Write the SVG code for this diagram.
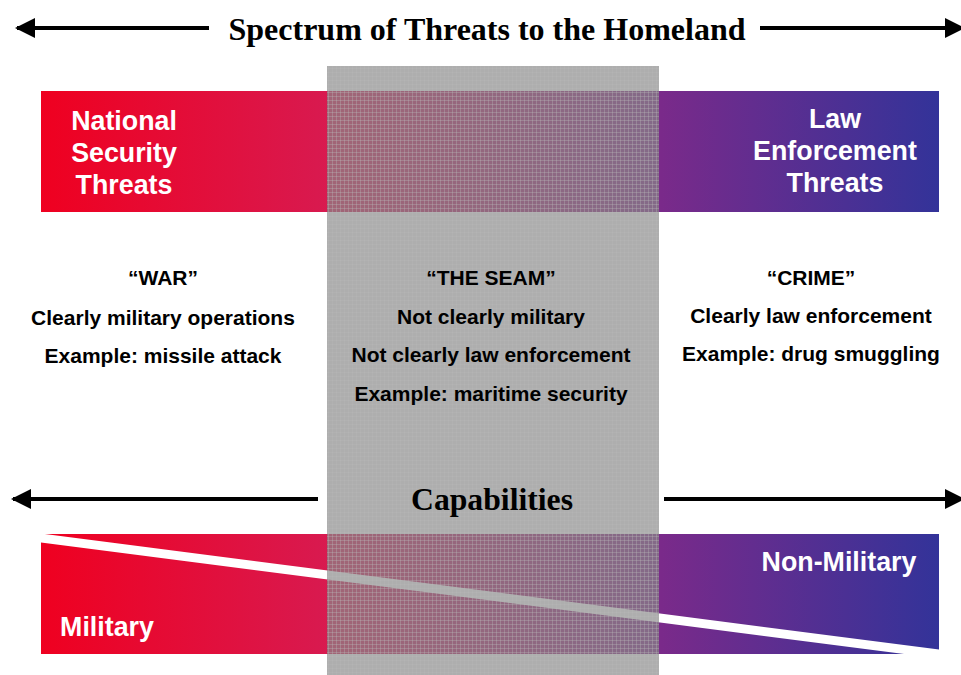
<svg xmlns="http://www.w3.org/2000/svg" width="961" height="675" viewBox="0 0 961 675">
<defs>
<style>
.title{font-family:"Liberation Serif","Times New Roman",serif;font-weight:bold;font-size:32px;fill:#000;text-anchor:middle}
.band{font-family:"Liberation Sans",Arial,sans-serif;font-weight:bold;font-size:26.8px;fill:#fff;text-anchor:middle}
.body{font-family:"Liberation Sans",Arial,sans-serif;font-weight:bold;font-size:21px;fill:#000;text-anchor:middle}
.arrow{stroke:#000;stroke-width:4;fill:none}
</style>
<linearGradient id="spec" gradientUnits="userSpaceOnUse" x1="41" y1="0" x2="939" y2="0">
<stop offset="0" stop-color="#ef0020"/>
<stop offset="0.32" stop-color="#d81a50"/>
<stop offset="0.69" stop-color="#7a2a8a"/>
<stop offset="1" stop-color="#333399"/>
</linearGradient>
<pattern id="mesh" patternUnits="userSpaceOnUse" width="4" height="4">
<rect width="4" height="4" fill="#878787" fill-opacity="0.68"/>
<rect x="0" y="0" width="4" height="1" fill="#b8b8b8" fill-opacity="0.35"/>
<rect x="0" y="0" width="1" height="4" fill="#b8b8b8" fill-opacity="0.35"/>
</pattern>
<marker id="ah" viewBox="0 0 10 10" refX="9" refY="5" markerWidth="5" markerHeight="5" orient="auto-start-reverse" markerUnits="strokeWidth">
<path d="M0,0 L10,5 L0,10 Z" fill="#000"/>
</marker>
</defs>
<rect width="961" height="675" fill="#fff"/>

<g id="connectors">
<line class="arrow" x1="17" y1="28" x2="209" y2="28" marker-start="url(#ah)"/>
<line class="arrow" x1="760" y1="28" x2="963" y2="28" marker-end="url(#ah)"/>
<line class="arrow" x1="13" y1="499" x2="318" y2="499" marker-start="url(#ah)"/>
<line class="arrow" x1="664" y1="499" x2="963" y2="499" marker-end="url(#ah)"/>
</g>

<g id="title"><text class="title" x="487" y="40" textLength="517" lengthAdjust="spacingAndGlyphs">Spectrum of Threats to the Homeland</text></g>

<g id="threat-band">
<rect x="41" y="91" width="898" height="121" fill="url(#spec)"/>
</g>

<g id="capability-band">
<rect x="41" y="534" width="898" height="120" fill="url(#spec)"/>
<polygon points="41,533.5 939,649.5 939,658.5 41,542.5" fill="#fff"/>
<rect x="0" y="654" width="961" height="10" fill="#fff"/>
<rect x="0" y="520" width="41" height="30" fill="#fff"/>
</g>

<g id="seam">
<rect x="327" y="66" width="332" height="609" fill="url(#mesh)"/>
</g>

<g id="national-security">
<text class="band" x="124" y="130">National</text>
<text class="band" x="124" y="162">Security</text>
<text class="band" x="124" y="194">Threats</text>
</g>
<g id="law-enforcement">
<text class="band" x="835" y="128">Law</text>
<text class="band" x="835" y="160">Enforcement</text>
<text class="band" x="835" y="192">Threats</text>
</g>

<g id="war">
<text class="body" x="163" y="285">“WAR”</text>
<text class="body" x="163" y="325">Clearly military operations</text>
<text class="body" x="163" y="363">Example: missile attack</text>
</g>
<g id="the-seam">
<text class="body" x="491" y="285">“THE SEAM”</text>
<text class="body" x="491" y="324">Not clearly military</text>
<text class="body" x="491" y="362">Not clearly law enforcement</text>
<text class="body" x="491" y="401">Example: maritime security</text>
</g>
<g id="crime">
<text class="body" x="811" y="285">“CRIME”</text>
<text class="body" x="811" y="323">Clearly law enforcement</text>
<text class="body" x="811" y="361">Example: drug smuggling</text>
</g>

<g id="capabilities"><text class="title" x="492" y="510" textLength="162" lengthAdjust="spacingAndGlyphs">Capabilities</text></g>
<g id="non-military"><text class="band" x="839" y="571">Non-Military</text></g>
<g id="military"><text class="band" x="107" y="636">Military</text></g>
</svg>
